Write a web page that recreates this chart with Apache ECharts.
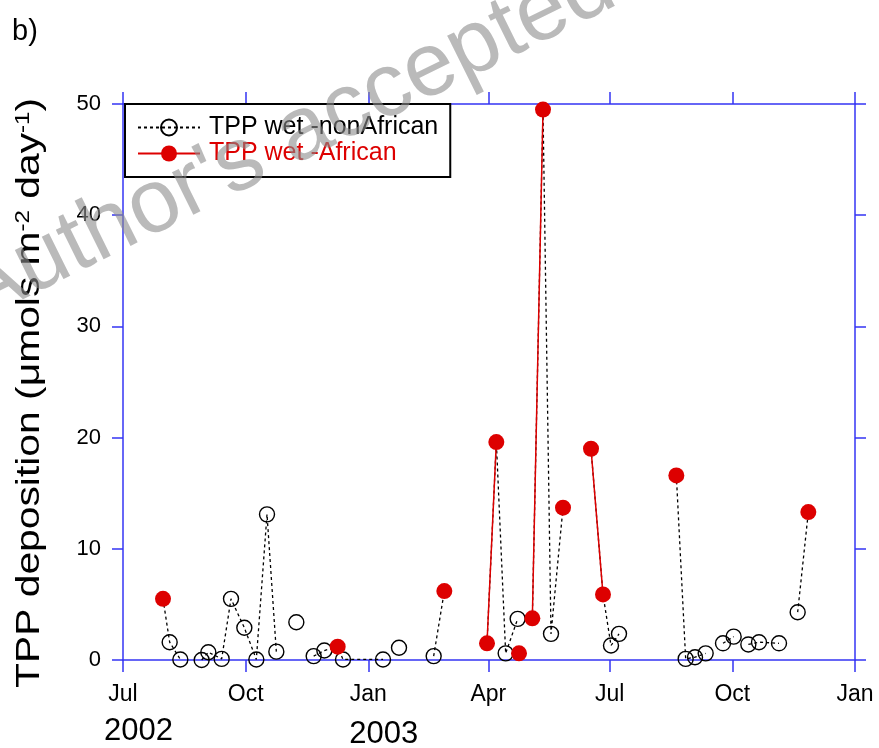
<!DOCTYPE html>
<html>
<head>
<meta charset="utf-8">
<script src="https://cdn.jsdelivr.net/npm/echarts@6/dist/echarts.min.js"></script>
<style>
html,body{margin:0;padding:0;background:#fff;}
#chart{width:879px;height:748px;}
</style>
</head>
<body>
<div id="chart"></div>
<script>
// ---- data ----
const sampleDates = [
  '2002-07-31','2002-08-05','2002-08-13','2002-08-29','2002-09-03','2002-09-13','2002-09-20',
  '2002-09-30','2002-10-09','2002-10-17','2002-10-24','2002-11-08','2002-11-21','2002-11-29',
  '2002-12-09','2002-12-13','2003-01-12','2003-01-24','2003-02-19','2003-02-27','2003-03-31',
  '2003-04-07','2003-04-14','2003-04-23','2003-04-24','2003-05-04','2003-05-12','2003-05-18',
  '2003-05-27','2003-06-17','2003-06-26','2003-07-02','2003-07-08','2003-08-20','2003-08-27',
  '2003-09-03','2003-09-11','2003-09-24','2003-10-02','2003-10-13','2003-10-21','2003-11-05',
  '2003-11-19','2003-11-27'
];
const tppValues = [
  5.5, 1.6, 0.05, 0.0, 0.7, 0.1, 5.5,
  2.9, 0.05, 13.1, 0.75, 3.4, 0.35, 0.85,
  1.2, 0.05, 0.05, 1.1, 0.35, 6.2, 1.5,
  19.6, 0.6, 3.7, 0.6, 3.75, 49.5, 2.35,
  13.7, 19.0, 5.9, 1.3, 2.35, 16.6, 0.1,
  0.25, 0.6, 1.5, 2.1, 1.4, 1.6, 1.5,
  4.3, 13.3
];
// 1 = African air-mass sample, 0 = non-African
const isAfrican = [
  1,0,0,0,0,0,0,
  0,0,0,0,0,0,0,
  1,0,0,0,0,1,1,
  1,0,0,1,1,1,0,
  1,1,1,0,0,1,0,
  0,0,0,0,0,0,0,
  0,1
];
// consecutive-sample runs joined by the dotted line
const dottedRun = [
  1,1,1,2,2,2,2,
  2,2,2,2,3,4,4,
  4,4,4,5,6,6,7,
  7,7,7,8,9,9,9,
  9,10,10,10,10,11,11,
  11,11,12,12,13,13,13,
  14,14
];
// runs of African samples joined by the red line
const redRun = [
  1,0,0,0,0,0,0,
  0,0,0,0,0,0,0,
  2,0,0,0,0,3,4,
  4,0,0,5,6,6,0,
  7,8,8,0,0,9,0,
  0,0,0,0,0,0,0,
  0,10
];
const xTickDates = ['2002-07-01','2002-10-01','2003-01-01','2003-04-01','2003-07-01','2003-10-01','2004-01-01'];
const xTickLabels = ['Jul','Oct','Jan','Apr','Jul','Oct','Jan'];
const yearLabels = ['2002','2003'];
const yearDates = ['2002-07-01','2003-01-01'];
const yTicks = {min:0, max:50, interval:10};

// ---- helpers ----
function ts(s){ const p = s.split('-').map(Number); return Date.UTC(p[0], p[1]-1, p[2]); }
const tickTs = xTickDates.map(ts);

const AXIS = '#3434f4';
const RED = '#dd0000';

const blackData = [];
for (let i = 0; i < sampleDates.length; i++) {
  const t = ts(sampleDates[i]);
  if (i > 0 && dottedRun[i] !== dottedRun[i-1]) blackData.push([t, null]);
  blackData.push(isAfrican[i] ? {value:[t, tppValues[i]], symbol:'none'} : [t, tppValues[i]]);
}
const redData = [];
let prevRun = null;
for (let i = 0; i < sampleDates.length; i++) {
  if (!isAfrican[i]) continue;
  const t = ts(sampleDates[i]);
  if (prevRun !== null && redRun[i] !== prevRun) redData.push([t, null]);
  redData.push([t, tppValues[i]]);
  prevRun = redRun[i];
}

const chart = echarts.init(document.getElementById('chart'), null, {renderer:'canvas'});
const FONT = 'Liberation Sans, Arial, sans-serif';

function xAxisCommon(pos, showLabels){
  return {
    type:'value', position:pos, scale:true,
    min: tickTs[0], max: tickTs[tickTs.length-1],
    axisLine:{show:true, onZero:false, lineStyle:{color:AXIS, width:1.5}},
    axisTick:{show:true, inside:false, length:12, lineStyle:{color:AXIS, width:1.5}, customValues: tickTs},
    axisLabel:{show:showLabels, customValues: tickTs, color:'#000', fontSize:23, fontFamily:FONT, margin:23,
      formatter: function(v){ const k = tickTs.indexOf(v); return k >= 0 ? xTickLabels[k] : ''; }},
    splitLine:{show:false}, minorTick:{show:false}
  };
}
function yAxisCommon(pos, showLabels){
  return {
    type:'value', position:pos, min:yTicks.min, max:yTicks.max, interval:yTicks.interval,
    axisLine:{show:true, onZero:false, lineStyle:{color:AXIS, width:1.5}},
    axisTick:{show:true, inside:false, length:11, lineStyle:{color:AXIS, width:1.5}},
    axisLabel:{show:showLabels, color:'#000', fontSize:22, fontFamily:FONT, margin:22},
    splitLine:{show:false}
  };
}

const option = {
  animation:false,
  backgroundColor:'#fff',
  grid:{left:123, right:24, top:104, bottom:88, containLabel:false},
  xAxis:[xAxisCommon('bottom', true), xAxisCommon('top', false)],
  yAxis:[yAxisCommon('left', true), yAxisCommon('right', false)],
  legend:{
    orient:'vertical', left:125, top:104,
    padding:[11, 12, 11, 12], itemWidth:62, itemHeight:20, itemGap:1,
    borderColor:'#000', borderWidth:2, backgroundColor:'rgba(255,255,255,0)',
    textStyle:{fontSize:25, fontFamily:FONT, color:'#000', padding:[0,0,0,4]},
    data:[{name:'TPP wet -nonAfrican', textStyle:{color:'#000'}},
          {name:'TPP wet -African', textStyle:{color:RED}}]
  },
  series:[
    {
      name:'TPP wet -nonAfrican', type:'line', xAxisIndex:0, yAxisIndex:0,
      data: blackData, connectNulls:false,
      symbol:'circle', symbolSize:15, showSymbol:true,
      lineStyle:{color:'#000', width:1.3, type:[3,3]},
      itemStyle:{color:'rgba(255,255,255,0)', borderColor:'#000', borderWidth:1.4},
      emphasis:{disabled:true}, z:2
    },
    {
      name:'TPP wet -African', type:'line', xAxisIndex:0, yAxisIndex:0,
      data: redData, connectNulls:false,
      symbol:'circle', symbolSize:16, showSymbol:true,
      lineStyle:{color:RED, width:1.5},
      itemStyle:{color:RED, borderWidth:0},
      emphasis:{disabled:true}, z:3
    }
  ]
};
chart.setOption(option);

// y-axis title, year labels below the month ticks, panel letter, watermark
const g = [];
g.push({type:'text', x:30, y:393, rotation:Math.PI/2, scaleX:1.2,
  style:{text:'TPP deposition (μmols m{sup|-2} day{sup|-1})', fontSize:34, fontFamily:FONT, fill:'#000',
    align:'center', verticalAlign:'middle',
    rich:{sup:{fontSize:20, fontFamily:FONT, fill:'#000', verticalAlign:'top', lineHeight:34}}}});
for (let i = 0; i < yearLabels.length; i++) {
  const px = chart.convertToPixel({xAxisIndex:0}, ts(yearDates[i]));
  g.push({type:'text', x: px - 19, y: 716 + i*3, style:{text: yearLabels[i], fontSize:31, fontFamily:FONT, fill:'#000'}});
}
g.push({type:'text', x:12, y:17, style:{text:'b)', fontSize:29, fontFamily:FONT, fill:'#000'}});
g.push({type:'text', x:-14, y:340, rotation:0.46, z:100,
  style:{text:"Author's accepted manuscript", fontSize:90, fontFamily:FONT, fill:'rgba(140,140,140,0.6)', verticalAlign:'bottom'}});
chart.setOption({graphic: g});
</script>
</body>
</html>
